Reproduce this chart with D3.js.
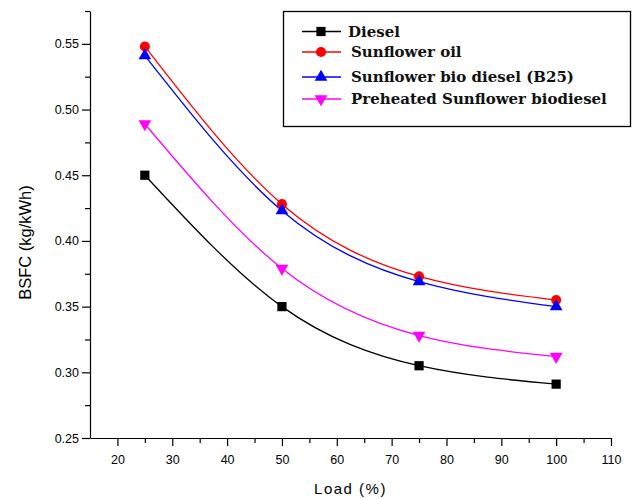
<!DOCTYPE html>
<html>
<head>
<meta charset="utf-8">
<script src="https://cdn.jsdelivr.net/npm/d3@7"></script>
<style>
  body { margin: 0; background: #fff; }
  svg { display: block; }
  .axis path, .axis line { stroke: #000; stroke-width: 1.2; }
  .axis text { font-family: "Liberation Sans", Arial, sans-serif; font-size: 12.5px; fill: #000; }
</style>
</head>
<body>
<div id="chart"></div>
<script>
// Load (%) on x, BSFC (kg/kWh) on y
const loads = [25, 50, 75, 100];
const diesel = [0.450, 0.350, 0.305, 0.291];
const sunflowerOil = [0.548, 0.428, 0.373, 0.355];
const b25 = [0.541, 0.423, 0.369, 0.350];
const preheated = [0.489, 0.379, 0.328, 0.312];

const seriesNames = ['Diesel', 'Sunflower oil', 'Sunflower bio diesel (B25)', 'Preheated Sunflower biodiesel'];
const seriesColors = ['#000000', '#ff0000', '#0000ff', '#ff00ff'];
const seriesSymbols = ['square', 'circle', 'triangle', 'triangleDown'];
const seriesValues = [diesel, sunflowerOil, b25, preheated];

const xMajorTicks = [20, 30, 40, 50, 60, 70, 80, 90, 100, 110];
const yMajorTicks = [0.25, 0.30, 0.35, 0.40, 0.45, 0.50, 0.55];

const W = 634, H = 499;
const margin = { left: 90, right: 23, top: 11, bottom: 61 };

const svg = d3.select('#chart').append('svg')
    .attr('width', W)
    .attr('height', H);

const x = d3.scaleLinear().domain([15, 110]).range([margin.left, W - margin.right]);
const y = d3.scaleLinear().domain([0.25, 0.575]).range([H - margin.bottom, margin.top]);

// minor ticks first (shorter), then major axes with labels
svg.append('g')
    .attr('class', 'axis')
    .attr('transform', `translate(0,${y(0.25)})`)
    .call(d3.axisBottom(x).tickValues(d3.range(25, 110, 10)).tickSize(5).tickFormat(''))
    .select('.domain').remove();

svg.append('g')
    .attr('class', 'axis')
    .attr('transform', `translate(${x(15)},0)`)
    .call(d3.axisLeft(y).tickValues([0.275, 0.325, 0.375, 0.425, 0.475, 0.525, 0.575]).tickSize(5).tickFormat(''))
    .select('.domain').remove();

const xAxis = svg.append('g')
    .attr('class', 'axis')
    .attr('transform', `translate(0,${y(0.25)})`)
    .call(d3.axisBottom(x).tickValues(xMajorTicks).tickSizeInner(8).tickSizeOuter(0).tickFormat(d3.format('d')));
xAxis.selectAll('text').attr('dy', '1.2em');

const yAxis = svg.append('g')
    .attr('class', 'axis')
    .attr('transform', `translate(${x(15)},0)`)
    .call(d3.axisLeft(y).tickValues(yMajorTicks).tickSizeInner(8).tickSizeOuter(0).tickFormat(d3.format('.2f')));
yAxis.selectAll('text').attr('x', -11);

// axis titles
svg.append('text')
    .attr('x', (x(15) + x(110)) / 2)
    .attr('y', 494)
    .attr('text-anchor', 'middle')
    .style('font-family', '"Liberation Sans", Arial, sans-serif')
    .style('font-size', '15px')
    .style('letter-spacing', '1.5px')
    .text('Load (%)');

svg.append('text')
    .attr('transform', `translate(31,${(y(0.25) + y(0.575)) / 2 + 18}) rotate(-90)`)
    .attr('text-anchor', 'middle')
    .style('font-family', '"Liberation Sans", Arial, sans-serif')
    .style('font-size', '16.5px')
    .text('BSFC (kg/kWh)');

const symbolType = {
    square: d3.symbolSquare,
    circle: d3.symbolCircle,
    triangle: d3.symbolTriangle,
    triangleDown: d3.symbolTriangle
};
const symbolSize = { square: 85, circle: 80, triangle: 70, triangleDown: 70 };

function drawMarker(g, kind, color) {
    const p = g.append('path')
        .attr('d', d3.symbol().type(symbolType[kind]).size(symbolSize[kind])())
        .attr('fill', color);
    if (kind === 'triangleDown') p.attr('transform', 'rotate(180)');
    return p;
}

const line = d3.line()
    .x((d, i) => x(loads[i]))
    .y(d => y(d))
    .curve(d3.curveNatural);

seriesValues.forEach((vals, s) => {
    svg.append('path')
        .datum(vals)
        .attr('fill', 'none')
        .attr('stroke', seriesColors[s])
        .attr('stroke-width', 1.3)
        .attr('d', line);
});

seriesValues.forEach((vals, s) => {
    vals.forEach((v, i) => {
        const g = svg.append('g').attr('transform', `translate(${x(loads[i])},${y(v)})`);
        drawMarker(g, seriesSymbols[s], seriesColors[s]);
    });
});

// legend
const legend = svg.append('g');
legend.append('rect')
    .attr('x', 283.5)
    .attr('y', 11.5)
    .attr('width', 347)
    .attr('height', 115)
    .attr('fill', '#fff')
    .attr('stroke', '#000')
    .attr('stroke-width', 1.3);

const legendRows = [31.5, 52, 77, 99];
seriesNames.forEach((name, s) => {
    const row = legend.append('g').attr('transform', `translate(0,${legendRows[s]})`);
    row.append('line')
        .attr('x1', 302).attr('x2', 341)
        .attr('stroke', seriesColors[s])
        .attr('stroke-width', 1.3);
    const mg = row.append('g').attr('transform', 'translate(321,0)');
    drawMarker(mg, seriesSymbols[s], seriesColors[s]);
    row.append('text')
        .attr('x', s === 0 ? 348 : 351)
        .attr('y', 5)
        .style('font-family', '"DejaVu Serif", "Liberation Serif", serif')
        .style('font-size', '15px')
        .style('font-weight', '600')
        .style('fill', '#111')
        .text(name);
});
</script>
</body>
</html>
